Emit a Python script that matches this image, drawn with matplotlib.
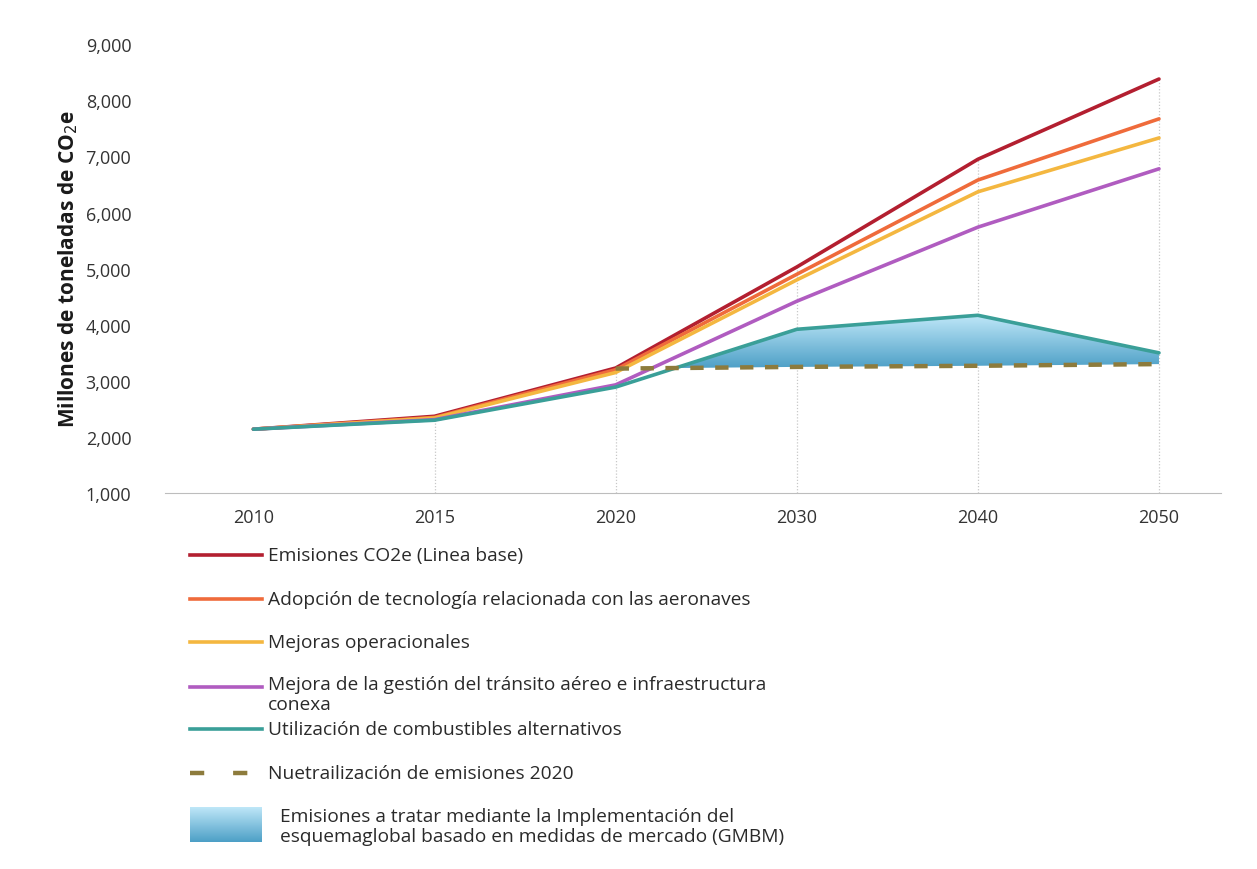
import matplotlib
matplotlib.use('Agg')
import matplotlib.pyplot as plt
import numpy as np
from matplotlib.colors import LinearSegmentedColormap
from matplotlib.lines import Line2D

plt.rcParams['font.family'] = ['Open Sans', 'DejaVu Sans']

# Emission scenarios (millions of tonnes CO2e)
years = ['2010', '2015', '2020', '2030', '2040', '2050']
baseline = [2140, 2370, 3230, 5030, 6950, 8380]
aircraft_tech = [2140, 2350, 3200, 4900, 6580, 7670]
operational = [2140, 2340, 3150, 4800, 6370, 7330]
atm_infra = [2140, 2310, 2930, 4420, 5740, 6780]
alt_fuels = [2140, 2300, 2890, 3920, 4170, 3500]
neutral_2020 = [3220, 3250, 3270, 3300]  # from 2020 onwards

series_labels = [
    'Emisiones CO2e (Linea base)',
    'Adopción de tecnología relacionada con las aeronaves',
    'Mejoras operacionales',
    'Mejora de la gestión del tránsito aéreo e infraestructura\nconexa',
    'Utilización de combustibles alternativos',
]
neutral_label = 'Nuetrailización de emisiones 2020'
gmbm_label = 'Emisiones a tratar mediante la Implementación del\nesquemaglobal basado en medidas de mercado (GMBM)'

colors = ['#b31f30', '#ef6b3b', '#f4b740', '#b05cc0', '#3a9f98']
dash_color = '#8d7b3c'
blue_cmap = LinearSegmentedColormap.from_list('gmbm', ['#4c9fc6', '#bfe7f8'])

fig = plt.figure(figsize=(12.57, 8.7), dpi=100)
ax = fig.add_axes([0.131, 0.432, 0.84, 0.516])

x = np.arange(len(years))
all_series = [baseline, aircraft_tech, operational, atm_infra, alt_fuels]

# drop lines from the baseline down to the axis
ax.vlines(x[1:], 1000, baseline[1:], colors='#c8c8c8', linestyles=(0, (1, 1.5)), lw=0.9, zorder=1)

# market-based measures area: gap between alt. fuels and the 2020 cap
xs = x[2:]
fuels = np.array(alt_fuels[2:], dtype=float)
cap = np.array(neutral_2020, dtype=float)
fb = ax.fill_between(xs, fuels, cap, where=fuels >= cap, interpolate=True,
                     facecolor='none', edgecolor='none')
grad = np.linspace(0, 1, 256).reshape(-1, 1)
im = ax.imshow(grad, cmap=blue_cmap, origin='lower', aspect='auto',
               extent=[xs[0], xs[-1], cap.min(), fuels.max()], zorder=2)
im.set_clip_path(fb.get_paths()[0], transform=ax.transData)

for vals, c in zip(all_series, colors):
    ax.plot(x, vals, color=c, lw=2.6, zorder=3, solid_capstyle='round')
ax.plot(xs, neutral_2020, color=dash_color, lw=3.2, dashes=(3.0, 2.6), zorder=4)

ax.set_xlim(-0.49, 5.34)
ax.set_ylim(1000, 9000)
ax.set_yticks(range(1000, 9001, 1000))
ax.set_yticklabels([f'{v:,}' for v in range(1000, 9001, 1000)])
ax.set_xticks(x)
ax.set_xticklabels(years)
ax.tick_params(length=0, labelsize=13, colors='#333333')
ax.tick_params(axis='x', pad=11)
ax.tick_params(axis='y', pad=24)
for side in ['top', 'right', 'left']:
    ax.spines[side].set_visible(False)
ax.spines['bottom'].set_color('#bdbdbd')
ax.set_ylabel('Millones de toneladas de CO$_2$e', fontsize=15, fontweight='bold',
              color='#1a1a1a', labelpad=4)

# legend drawn underneath the chart
def fy(py):
    return 1 - py / 870

def fx(px):
    return px / 1257

LEG_FS = 13.8
row_y = [556, 600, 643, 688, 730]
for py, c, lab in zip(row_y, colors, series_labels):
    fig.add_artist(Line2D([fx(190), fx(262)], [fy(py), fy(py)], color=c, lw=2.6))
    fig.text(fx(268), fy(py), lab, fontsize=LEG_FS, color='#2a2a2a', va='top' if '\n' in lab else 'center',
             linespacing=1.15)
fig.texts[3].set_position((fx(268), fy(676)))

fig.add_artist(Line2D([fx(190), fx(262)], [fy(774), fy(774)], color=dash_color, lw=3.2,
                      dashes=(3.2, 6.5)))
fig.text(fx(268), fy(774), neutral_label, fontsize=LEG_FS, color='#2a2a2a', va='center')

lax = fig.add_axes([fx(190), fy(843), fx(262) - fx(190), (843 - 808) / 870])
lax.imshow(grad, cmap=blue_cmap, origin='lower', aspect='auto')
lax.axis('off')
fig.text(fx(280), fy(827), gmbm_label, fontsize=LEG_FS, color='#2a2a2a', va='center', linespacing=1.2)

plt.savefig('out.png', dpi=100)
